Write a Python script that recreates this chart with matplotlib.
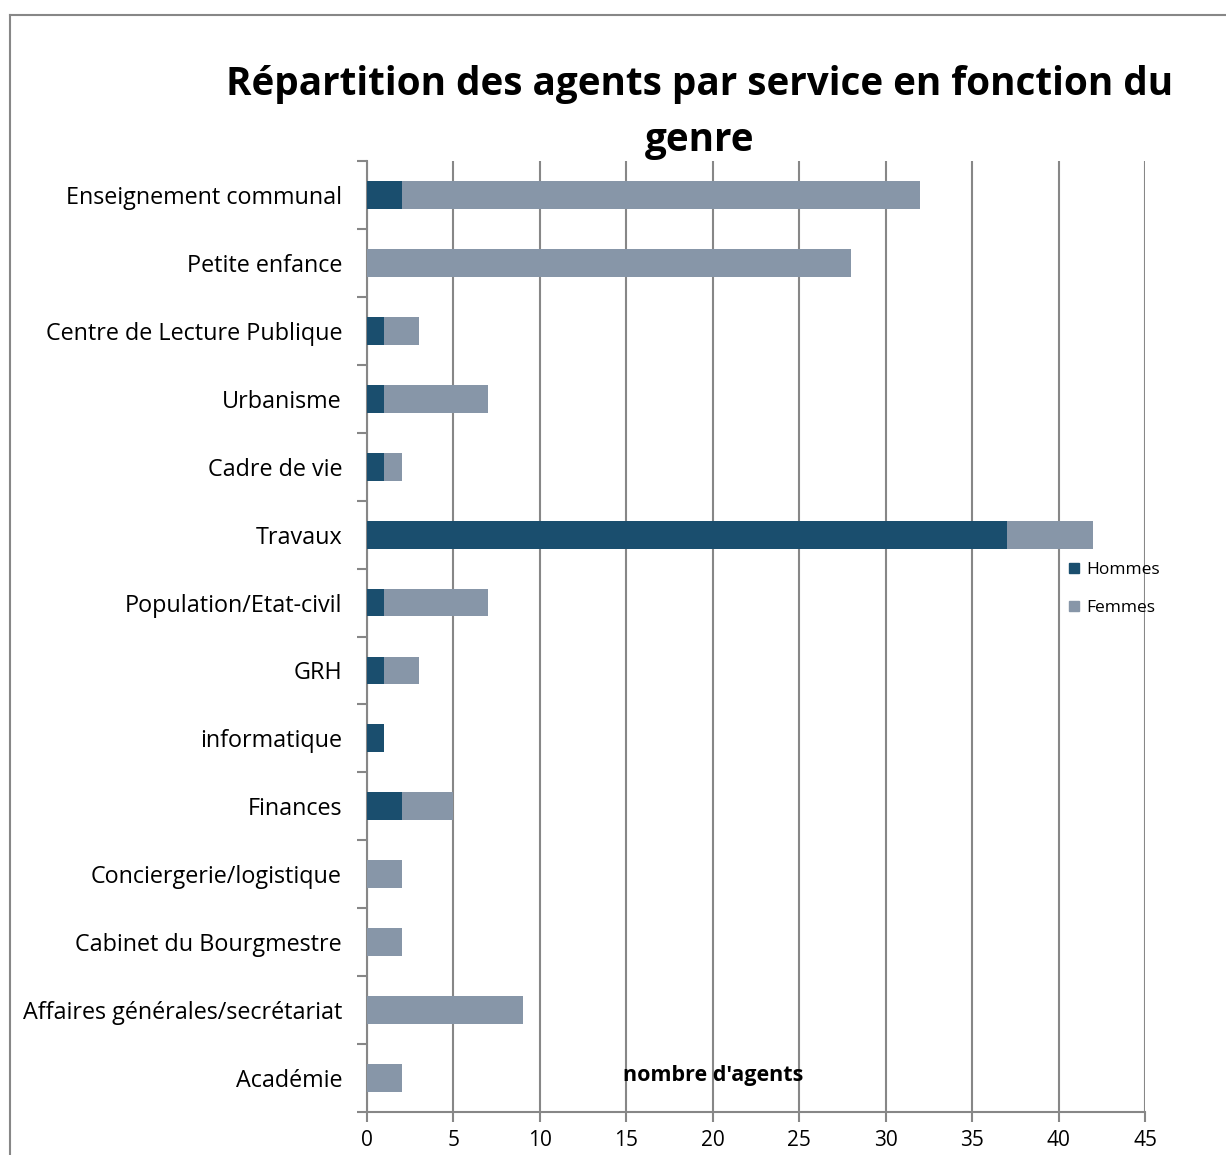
import matplotlib
matplotlib.use("Agg")
import matplotlib.pyplot as plt
import numpy as np
from matplotlib.lines import Line2D

categories = ["Enseignement communal", "Petite enfance", "Centre de Lecture Publique",
              "Urbanisme", "Cadre de vie", "Travaux", "Population/Etat-civil", "GRH",
              "informatique", "Finances", "Conciergerie/logistique",
              "Cabinet du Bourgmestre", "Affaires générales/secrétariat", "Académie"]
hommes = [2, 0, 1, 1, 1, 37, 1, 1, 1, 2, 0, 0, 0, 0]
femmes = [30, 28, 2, 6, 1, 5, 6, 2, 0, 3, 2, 2, 9, 2]
xticks = [0, 5, 10, 15, 20, 25, 30, 35, 40, 45]

c_h = "#1A4E6E"
c_f = "#8796A8"
grid_c = "#878787"
font = "Open Sans"

fig = plt.figure(figsize=(12.26, 11.55), dpi=100)
ax = fig.add_axes([367/1226, 1-1112/1155, (1145-367)/1226, (1112-161)/1155])

n = len(categories)
y = np.arange(n)
ax.barh(y, hommes, height=0.41, color=c_h, label="Hommes", zorder=3)
ax.barh(y, femmes, left=hommes, height=0.41, color=c_f, label="Femmes", zorder=3)

ax.set_ylim(n - 0.5, -0.5)
ax.set_xlim(0, 45)
ax.set_xticks(xticks)
ax.set_xticklabels([str(t) for t in xticks], fontsize=15, family=font)
ax.set_yticks(y)
ax.set_yticklabels(categories, fontsize=16.8, family=font)
ax.set_yticks(np.arange(n + 1) - 0.5, minor=True)
ax.tick_params(axis="y", which="major", length=0, pad=18)
ax.tick_params(axis="y", which="minor", length=7, width=1.5, color=grid_c, direction="out")
ax.tick_params(axis="x", which="major", length=7, width=1.5, color=grid_c, direction="out", pad=6)

ax.grid(axis="x", color=grid_c, linewidth=1.5, zorder=0)
for s in ["top", "right"]:
    ax.spines[s].set_visible(False)
for s in ["left", "bottom"]:
    ax.spines[s].set_color(grid_c)
    ax.spines[s].set_linewidth(1.5)

ax.text(20.0, 12.97, "nombre d'agents", fontsize=15.5, fontweight="bold", family=font,
        ha="center", va="center", zorder=4)

handles = [Line2D([0], [0], marker="s", linestyle="", markersize=7, color=c_h),
           Line2D([0], [0], marker="s", linestyle="", markersize=7, color=c_f)]
fig.legend(handles, ["Hommes", "Femmes"], loc="center left",
           bbox_to_anchor=(1050/1226, 1-589/1155), frameon=False,
           prop={"family": font, "size": 12.5}, labelspacing=1.3,
           handletextpad=0.2, handlelength=1.0)

fig.text(700/1226, 1-85/1155, "Répartition des agents par service en fonction du",
         fontsize=27.8, fontweight="bold", family=font, ha="center", va="center")
fig.text(700/1226, 1-141/1155, "genre",
         fontsize=27.8, fontweight="bold", family=font, ha="center", va="center")

# chart border (top and left)
fig.add_artist(Line2D([10/1226, 1], [1-15/1155, 1-15/1155], color=grid_c, linewidth=1.5,
                      transform=fig.transFigure))
fig.add_artist(Line2D([10/1226, 10/1226], [0, 1-15/1155], color=grid_c, linewidth=1.5,
                      transform=fig.transFigure))

fig.savefig("out.png", dpi=100)
